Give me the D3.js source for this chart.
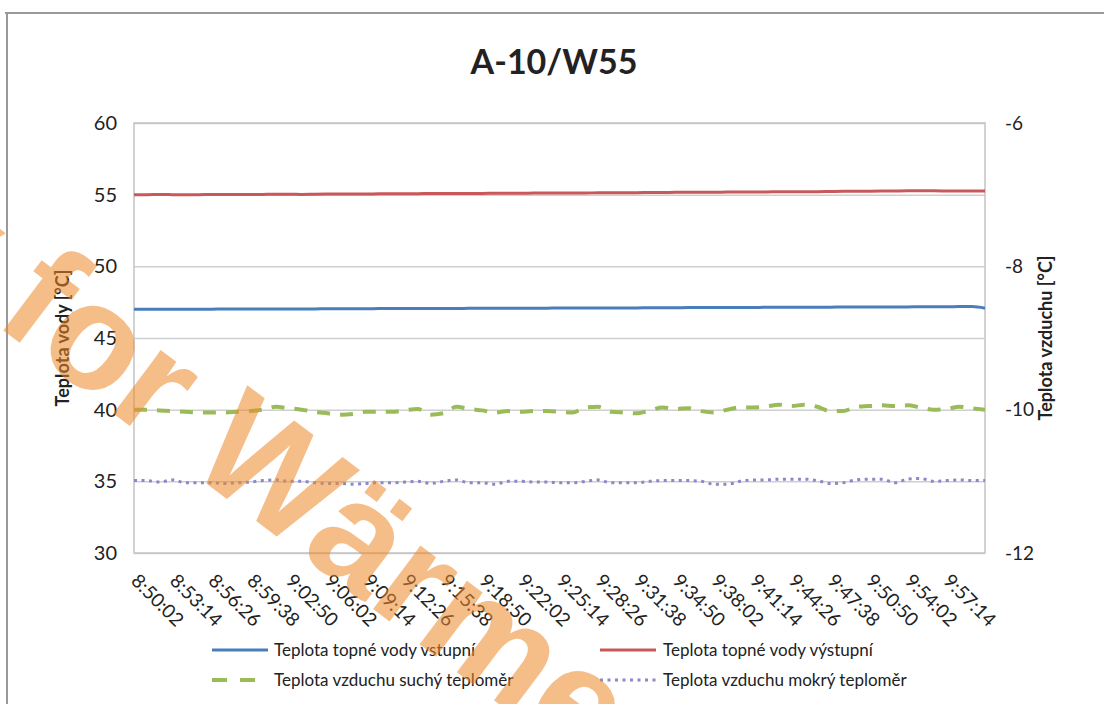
<!DOCTYPE html>
<html>
<head>
<meta charset="utf-8">
<script src="https://cdn.jsdelivr.net/npm/d3@7"></script>
<style>
    body { margin: 0; background: #fff; }
    svg { display: block; font-family: Lato, "Open Sans", sans-serif; }
</style>
</head>
<body>
<div class="chart"></div>
<script>
// Tick labels on the time axis (every 3rd sample)
var timeLabels = ["8:50:02", "8:53:14", "8:56:26", "8:59:38", "9:02:50", "9:06:02", "9:09:14",
    "9:12:26", "9:15:38", "9:18:50", "9:22:02", "9:25:14", "9:28:26", "9:31:38", "9:34:50",
    "9:38:02", "9:41:14", "9:44:26", "9:47:38", "9:50:50", "9:54:02", "9:57:14"];
var labelEvery = 3;

// Water temperatures, left axis
var vstupni = [47.00, 47.00, 47.00, 47.01, 47.01, 47.01, 47.01, 47.02, 47.02, 47.02, 47.02,
    47.03, 47.03, 47.03, 47.03, 47.04, 47.04, 47.04, 47.04, 47.05, 47.05, 47.05, 47.05,
    47.06, 47.06, 47.06, 47.07, 47.07, 47.07, 47.07, 47.08, 47.08, 47.08, 47.09, 47.09,
    47.09, 47.10, 47.10, 47.10, 47.10, 47.11, 47.11, 47.11, 47.12, 47.12, 47.12, 47.13,
    47.13, 47.13, 47.14, 47.14, 47.14, 47.15, 47.15, 47.15, 47.16, 47.16, 47.16, 47.17,
    47.17, 47.17, 47.18, 47.18, 47.18, 47.19, 47.19, 47.08];
var vystupni = [55.00, 55.00, 55.01, 55.00, 54.99, 55.00, 55.01, 55.02, 55.02, 55.01, 55.02,
    55.03, 55.03, 55.02, 55.03, 55.04, 55.05, 55.05, 55.05, 55.06, 55.06, 55.07, 55.07,
    55.08, 55.08, 55.08, 55.09, 55.09, 55.10, 55.10, 55.10, 55.11, 55.11, 55.12, 55.12,
    55.12, 55.13, 55.13, 55.14, 55.14, 55.15, 55.15, 55.16, 55.16, 55.17, 55.17, 55.18,
    55.18, 55.19, 55.19, 55.20, 55.20, 55.21, 55.21, 55.22, 55.23, 55.23, 55.24, 55.25,
    55.26, 55.27, 55.27, 55.27, 55.26, 55.25, 55.25, 55.25];

// Air temperatures, right axis
var sucky = [-10.00, -10.00, -10.01, -10.02, -10.03, -10.04, -10.04, -10.04, -10.03, -10.02,
    -10.00, -9.96, -9.98, -10.00, -10.03, -10.05, -10.07, -10.06, -10.03, -10.03, -10.03,
    -10.01, -9.99, -10.07, -10.05, -9.96, -9.99, -10.01, -10.04, -10.02, -10.03, -10.02,
    -10.02, -10.03, -10.04, -9.97, -9.96, -10.03, -10.04, -10.05, -10.01, -9.97, -9.99,
    -9.98, -10.02, -10.04, -10.00, -9.97, -9.97, -9.96, -9.93, -9.95, -9.93, -9.96, -10.02,
    -10.02, -9.96, -9.95, -9.94, -9.95, -9.94, -9.97, -10.00, -9.99, -9.96, -9.98, -10.00];
var mokry = [-10.99, -10.99, -11.01, -10.98, -11.02, -11.02, -11.02, -11.03, -11.02, -11.01,
    -10.99, -10.98, -11.00, -11.00, -11.02, -11.03, -11.03, -11.04, -11.03, -11.02, -11.02,
    -11.01, -11.00, -11.03, -11.00, -10.98, -11.02, -11.02, -11.04, -11.00, -11.00, -11.01,
    -11.01, -11.02, -11.02, -11.00, -10.98, -11.02, -11.02, -11.02, -11.00, -10.99, -10.99,
    -10.99, -11.00, -11.04, -11.04, -11.00, -10.98, -10.98, -10.97, -10.97, -10.97, -10.99,
    -11.03, -11.02, -10.98, -10.97, -10.97, -11.02, -10.97, -10.96, -11.00, -10.99, -10.98,
    -10.99, -10.99];

var leftTicks = [30, 35, 40, 45, 50, 55, 60];
var rightTicks = [-12, -10, -8, -6];

var width = 1104;
var height = 704;
var margin = ({ top: 123, right: 119, bottom: 151, left: 134 });

const svg = d3.select("div.chart")
    .append("svg")
    .attr("width", width)
    .attr("height", height);

// Outer frame of the (scanned) chart
svg.append("line")
    .attr("x1", 5).attr("x2", width).attr("y1", 13).attr("y2", 13)
    .attr("stroke", "#9a9a9a").attr("stroke-width", 2);
svg.append("line")
    .attr("x1", 7).attr("x2", 7).attr("y1", 13).attr("y2", height)
    .attr("stroke", "#9a9a9a").attr("stroke-width", 2);

// Scales
var x = d3.scalePoint()
    .domain(d3.range(vstupni.length))
    .range([margin.left, width - margin.right]);
var yLeft = d3.scaleLinear()
    .domain([30, 60])
    .range([height - margin.bottom, margin.top]);
var yRight = d3.scaleLinear()
    .domain([-12, -6])
    .range([height - margin.bottom, margin.top]);

// Grid lines
svg.append("g")
    .attr("transform", `translate(${margin.left},0)`)
    .call(d3.axisRight(yLeft).tickValues(leftTicks).tickSize(width - margin.left - margin.right).tickFormat(""))
    .call(g => g.select(".domain").remove())
    .call(g => g.selectAll(".tick line")
        .attr("stroke", "#cfcfcf")
        .attr("stroke-width", 1.5));

// Plot frame
svg.append("rect")
    .attr("x", margin.left)
    .attr("y", margin.top)
    .attr("width", width - margin.left - margin.right)
    .attr("height", height - margin.top - margin.bottom)
    .attr("fill", "none")
    .attr("stroke", "#c4c4c4")
    .attr("stroke-width", 1.5);

// Left axis
svg.append("g")
    .attr("transform", `translate(${margin.left},0)`)
    .call(d3.axisLeft(yLeft).tickValues(leftTicks).tickSize(0).tickPadding(17))
    .call(g => g.select(".domain").remove())
    .call(g => g.selectAll(".tick text")
        .attr("fill", "#222")
        .style("font-size", "20px")
        .style("font-family", "Lato, sans-serif"));

// Right axis
svg.append("g")
    .attr("transform", `translate(${width - margin.right},0)`)
    .call(d3.axisRight(yRight).tickValues(rightTicks).tickSize(0).tickPadding(20).tickFormat(d => String(d)))
    .call(g => g.select(".domain").remove())
    .call(g => g.selectAll(".tick text")
        .attr("fill", "#222")
        .style("font-size", "19px")
        .style("font-family", "Lato, sans-serif"));

// Time labels, rotated 45 degrees
svg.append("g")
    .selectAll("text")
    .data(timeLabels)
    .join("text")
        .attr("transform", (d, i) => `translate(${x(i * labelEvery) - 4},582) rotate(45)`)
        .attr("text-anchor", "start")
        .attr("fill", "#222")
        .style("font-size", "19px")
        .text(d => d);

// Axis titles
svg.append("text")
    .attr("transform", `translate(69,${yLeft(45)}) rotate(-90)`)
    .attr("text-anchor", "middle")
    .style("font-size", "18px")
    .style("font-weight", "bold")
    .attr("fill", "#222")
    .text("Teplota vody [°C]");
svg.append("text")
    .attr("transform", `translate(1052,${yLeft(45)}) rotate(-90)`)
    .attr("text-anchor", "middle")
    .style("font-size", "18px")
    .style("font-weight", "bold")
    .attr("fill", "#222")
    .text("Teplota vzduchu [°C]");

// Title
svg.append("text")
    .attr("x", 554)
    .attr("y", 74)
    .attr("text-anchor", "middle")
    .style("font-size", "34px")
    .style("font-weight", "bold")
    .attr("fill", "#222")
    .text("A-10/W55");

// The series
var series = [
    { name: "Teplota topné vody vstupní", values: vstupni, y: yLeft, color: "#4a7ebb", width: 3, dash: null },
    { name: "Teplota topné vody výstupní", values: vystupni, y: yLeft, color: "#c9585b", width: 3, dash: null },
    { name: "Teplota vzduchu suchý teploměr", values: sucky, y: yRight, color: "#9bbb59", width: 4, dash: "13,10" },
    { name: "Teplota vzduchu mokrý teploměr", values: mokry, y: yRight, color: "#8a88c8", width: 3, dash: "3,4.5" }
];

svg.append("g")
    .selectAll("path")
    .data(series)
    .join("path")
        .attr("fill", "none")
        .attr("stroke", s => s.color)
        .attr("stroke-width", s => s.width)
        .attr("stroke-dasharray", s => s.dash)
        .attr("stroke-linejoin", "round")
        .attr("d", s => d3.line()
            .x((v, i) => x(i))
            .y(v => s.y(v))
            .curve(d3.curveMonotoneX)(s.values));

// Legend, two rows of two
var legendPos = [[212, 650], [600, 650], [212, 680], [600, 680]];
var legend = svg.append("g")
    .selectAll("g")
    .data(series)
    .join("g")
        .attr("transform", (s, i) => `translate(${legendPos[i][0]},${legendPos[i][1]})`);
legend.append("line")
    .attr("x1", 0).attr("x2", (s, i) => i == 2 ? 44 : 56)
    .attr("y1", 0).attr("y2", 0)
    .attr("stroke", s => s.color)
    .attr("stroke-width", s => s.width)
    .attr("stroke-dasharray", (s, i) => i == 2 ? "15,13" : s.dash);
legend.append("text")
    .attr("x", (s, i) => i % 2 == 0 ? 62 : 63)
    .attr("y", 6)
    .attr("fill", "#222")
    .style("font-size", "17px")
    .text(s => s.name);

// Orange watermark laid over everything
var mark = svg.append("g")
    .attr("transform", "translate(-8,322) rotate(37)")
    .attr("fill", "#ee8a2a")
    .attr("opacity", 0.55)
    .style("font-family", "'Liberation Sans', Arial, sans-serif")
    .style("font-weight", "bold")
    .style("font-size", "150px");
mark.append("text")
    .attr("text-anchor", "end")
    .text("Only\u00a0");
mark.append("text")
    .attr("text-anchor", "start")
    .text("for Wärme");
</script>
</body>
</html>
